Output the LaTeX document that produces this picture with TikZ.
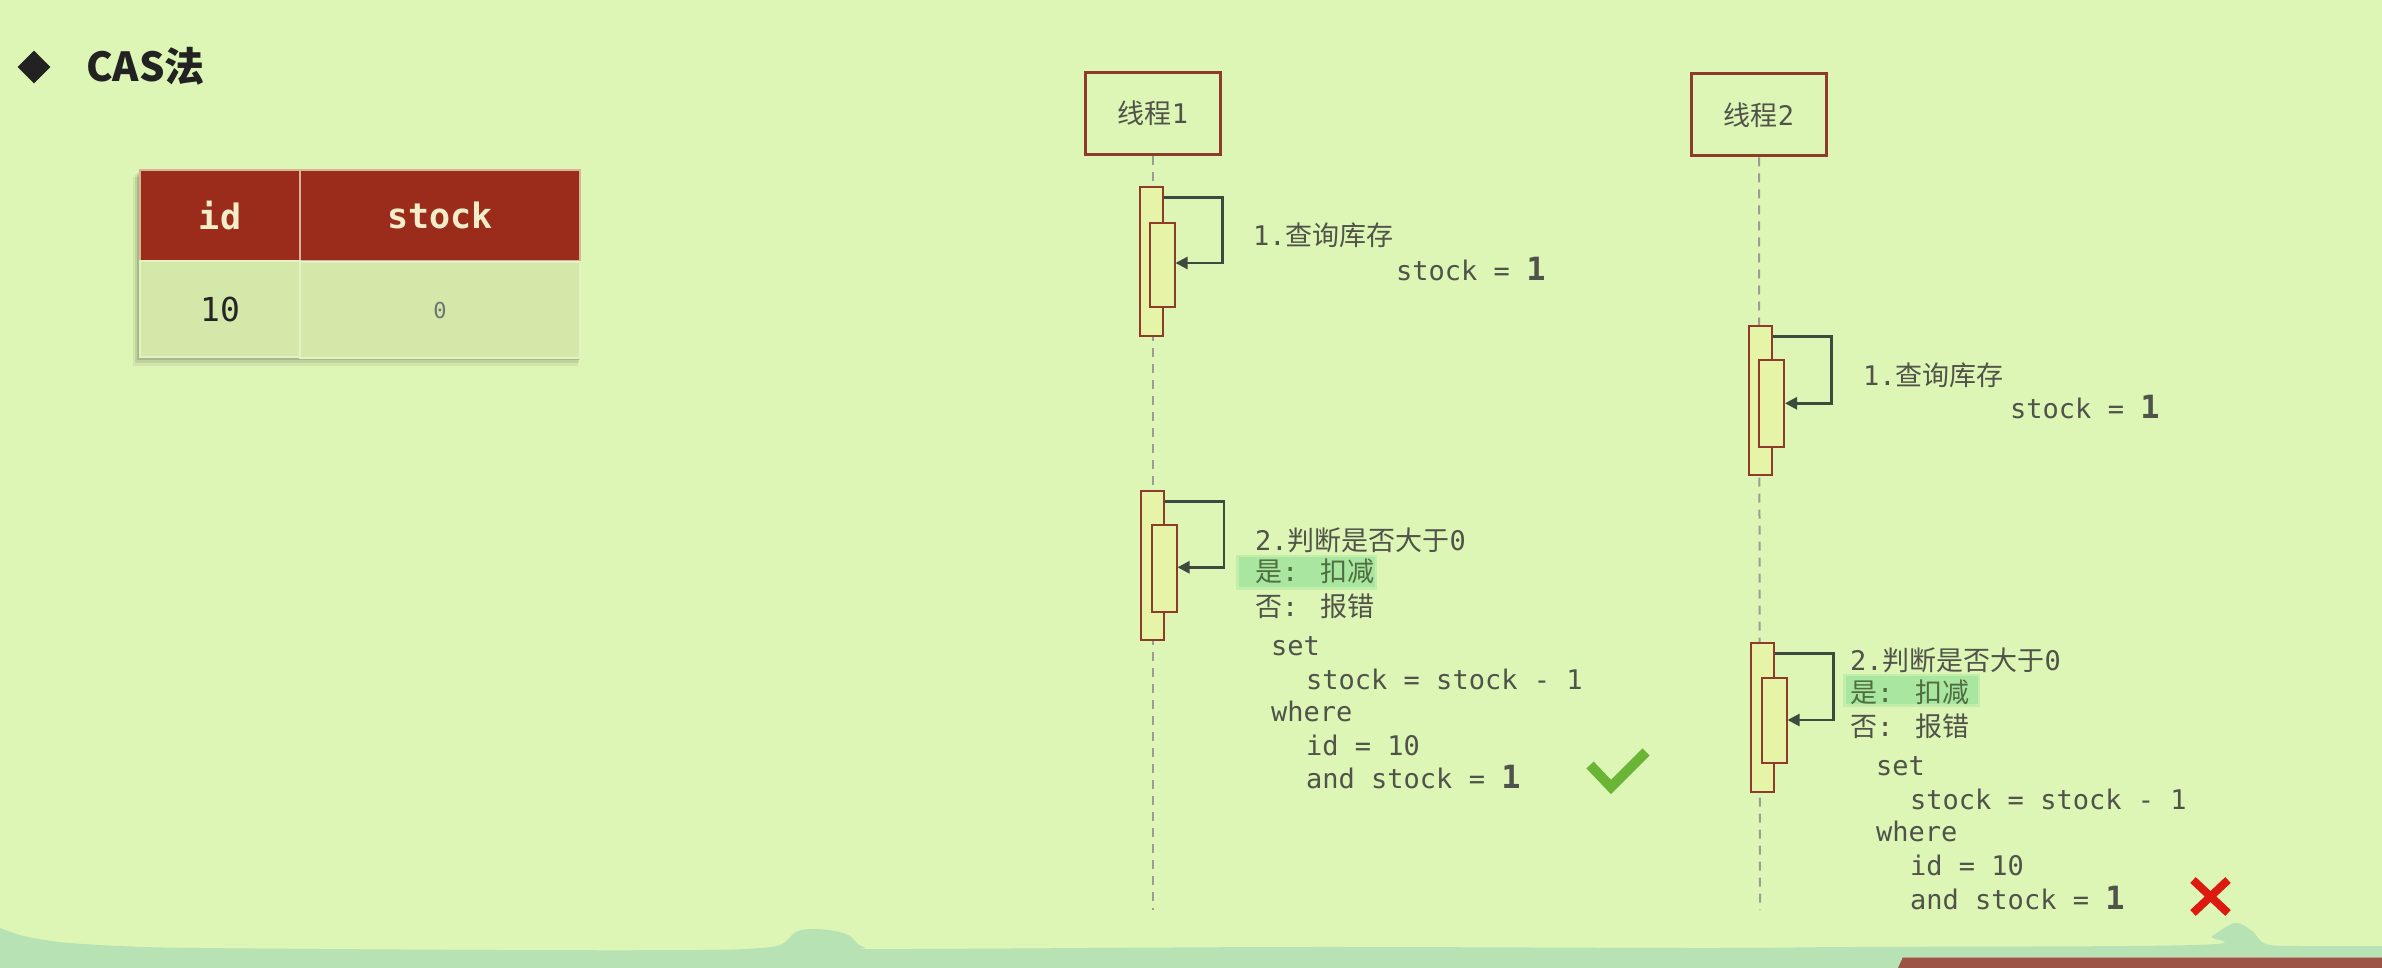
\documentclass[tikz,border=0pt]{standalone}
\usepackage{fontspec}
\setmainfont{DejaVu Sans Mono}
\newfontfamily\mono{DejaVu Sans Mono}
\newfontfamily\cjk{Noto Sans CJK SC}
\usetikzlibrary{shapes.geometric,arrows.meta}
\definecolor{bgc}{HTML}{DDF5B5}
\definecolor{wavec}{HTML}{B7E3B4}
\definecolor{barc}{HTML}{9C5444}
\definecolor{hdrc}{HTML}{9B2B1B}
\definecolor{hdrtxt}{HTML}{F3EDC9}
\definecolor{rowc}{HTML}{D3E8A9}
\definecolor{rowline}{HTML}{E2F2C4}
\definecolor{actred}{HTML}{8E3B2A}
\definecolor{actfill}{HTML}{E6F4A8}
\definecolor{arrowgray}{HTML}{3E4A3E}
\definecolor{dashgray}{HTML}{9C9E90}
\definecolor{txtgray}{HTML}{50534A}
\definecolor{yesgreen}{HTML}{4E6E40}
\definecolor{hlc}{HTML}{A9E6A0}
\definecolor{checkc}{HTML}{6BB536}
\definecolor{crossc}{HTML}{DD1A10}
\definecolor{titlec}{HTML}{222222}
\newcommand\myfs[1]{\fontsize{#1}{#1}\selectfont}
\newcommand\bigone{{\bfseries\myfs{32}1}}
\tikzset{
  lifebox/.style={draw=actred, line width=3pt, minimum width=135pt, minimum height=82pt, inner sep=0pt, text=txtgray, font=\cjk\myfs{27}},
  actouter/.style={draw=actred, line width=2pt, fill=actfill, minimum width=23pt, inner sep=0pt},
  actinner/.style={actouter, minimum width=25pt},
  selfarrow/.style={draw=arrowgray, line width=2.5pt, -{Triangle[length=12pt,width=12pt]}},
  lifeline/.style={draw=dashgray, line width=2pt, dash pattern=on 9pt off 7pt},
  txt/.style={anchor=west, inner sep=0pt, text height=20pt, text depth=0pt, text=txtgray, font=\mono\myfs{27}},
  hcell/.style={fill=hdrc, draw=hdrtxt!70!hdrc, line width=1.5pt, minimum height=91pt, inner sep=0pt, text=hdrtxt, font=\mono\bfseries\myfs{35}},
  rcell/.style={fill=rowc, draw=rowline, line width=1.5pt, minimum height=96pt, inner sep=0pt},
  hl/.style={fill=hlc, draw=none},
}
\begin{document}
\begin{tikzpicture}[x=1pt,y=-1pt]
\useasboundingbox (0,0) rectangle (2382,968);
\fill[bgc] (0,0) rectangle (2382,968);
% bottom decoration
\fill[wavec] plot[smooth, tension=0.6] coordinates {(0,928) (20,935) (45,940) (70,943) (120,946) (200,948) (500,950) (700,950) (760,948) (782,944) (796,932) (812,929) (835,931) (850,936) (864,947) (900,949) (1300,947) (1700,948) (1850,947) (2195,945) (2212,936) (2235,923) (2252,931) (2266,944) (2300,946) (2382,946)} -- (2382,968) -- (0,968) -- cycle;
\fill[barc] (1903,957) -- (2382,957) -- (2382,968) -- (1898,968) -- cycle;
\draw[barc!60!white, line width=1pt] (1903,957.5) -- (2382,957.5);

% title
\node[diamond, fill=titlec, minimum width=33pt, minimum height=33pt, inner sep=0pt] (bullet) at (34,67) {};
\node[anchor=west, inner sep=0pt, text height=30pt, text depth=0pt, text=titlec, font=\cjk\bfseries\myfs{40}] (title) at (86,67) {CAS法};

% table shadow
\fill[black, opacity=0.06] (133,177) rectangle (578,366);
\fill[black, opacity=0.08] (135,175) rectangle (579,363);
\fill[black, opacity=0.12] (137,173) rectangle (580,360);
% table
\node[hcell, minimum width=160pt] (hid) at (220,215.5) {id};
\node[hcell, minimum width=280pt] (hstock) at (440,215.5) {stock};
\node[rcell, minimum width=160pt, text=black!85, font=\mono\myfs{33}] (rid) at (220,309) {10};
\node[rcell, minimum width=280pt, text=black!55, font=\mono\myfs{22}] (rstock) at (440,310) {0};

% lifelines
\node[lifebox] (t1) at (1153,113.5) {线程{\mono 1}};
\node[lifebox] (t2) at (1759,115) {线程{\mono 2}};
\coordinate (e1) at (1153,910);
\coordinate (e2) at (1760,910);
\draw[lifeline] (t1.south) -- (e1);
\draw[lifeline] (t2.south) -- (e2);

% activations thread 1
\node[actouter, minimum height=149pt] (a1o) at (1151,261.5) {};
\node[actinner, minimum height=84pt] (a1i) at (1162,265) {};
\draw[selfarrow] ([yshift=-11.5pt]a1o.north east) -- ++(59,0) |- ([yshift=2pt]a1i.east);
\node[actouter, minimum height=149pt] (b1o) at (1152.5,565.3) {};
\node[actinner, minimum height=87pt] (b1i) at (1164,568.3) {};
\draw[selfarrow] ([yshift=-11.5pt]b1o.north east) -- ++(59,0) |- ([yshift=1pt]b1i.east);

% activations thread 2
\node[actouter, minimum height=149pt] (a2o) at (1760,400.5) {};
\node[actinner, minimum height=87pt] (a2i) at (1771.5,403.3) {};
\draw[selfarrow] ([yshift=-11.5pt]a2o.north east) -- ++(59,0) |- ([yshift=0pt]a2i.east);
\node[actouter, minimum height=149pt] (b2o) at (1762,717.5) {};
\node[actinner, minimum height=85pt] (b2i) at (1774,720) {};
\draw[selfarrow] ([yshift=-11.5pt]b2o.north east) -- ++(59,0) |- ([yshift=0pt]b2i.east);

% texts thread 1 step 1
\node[txt] (q1) at (1253,236) {1.{\cjk 查询库存}};
\node[txt] (s1) at (1396,270) {stock = \bigone};
% texts thread 2 step 1
\node[txt] (q2) at (1863,375) {1.{\cjk 查询库存}};
\node[txt] (s2) at (2010,408) {stock = \bigone};

% thread 1 step 2
\fill[hlc, opacity=0.5] (1236,554.5) rectangle (1377,589.5);
\fill[hl] (1239,557) rectangle (1375,587);
\node[txt] (j1) at (1255,540) {2.{\cjk 判断是否大于}0};
\node[txt, text=yesgreen] (y1) at (1255,571.7) {{\cjk 是}: {\cjk 扣减}};
\node[txt] (n1) at (1255,606.7) {{\cjk 否}: {\cjk 报错}};
\node[txt] (c11) at (1271,645) {set};
\node[txt] (c12) at (1306,679) {stock = stock - 1};
\node[txt] (c13) at (1271,711) {where};
\node[txt] (c14) at (1306,745) {id = 10};
\node[txt] (c15) at (1306,778) {and stock = \bigone};

% thread 2 step 2
\fill[hlc, opacity=0.5] (1843,673.5) rectangle (1980,706.5);
\fill[hl] (1846,676) rectangle (1978,704);
\node[txt] (j2) at (1850,660) {2.{\cjk 判断是否大于}0};
\node[txt, text=yesgreen] (y2) at (1850,692) {{\cjk 是}: {\cjk 扣减}};
\node[txt] (n2) at (1850,726) {{\cjk 否}: {\cjk 报错}};
\node[txt] (c21) at (1876,765) {set};
\node[txt] (c22) at (1910,799) {stock = stock - 1};
\node[txt] (c23) at (1876,831) {where};
\node[txt] (c24) at (1910,865) {id = 10};
\node[txt] (c25) at (1910,899) {and stock = \bigone};

% check and cross
\draw[checkc, line width=10pt] (1590,765) -- (1611,787) -- (1646,752);
\draw[crossc, line width=8pt] (2193,880) -- (2228,913);
\draw[crossc, line width=8pt] (2228,880) -- (2193,913);
\end{tikzpicture}
\end{document}
